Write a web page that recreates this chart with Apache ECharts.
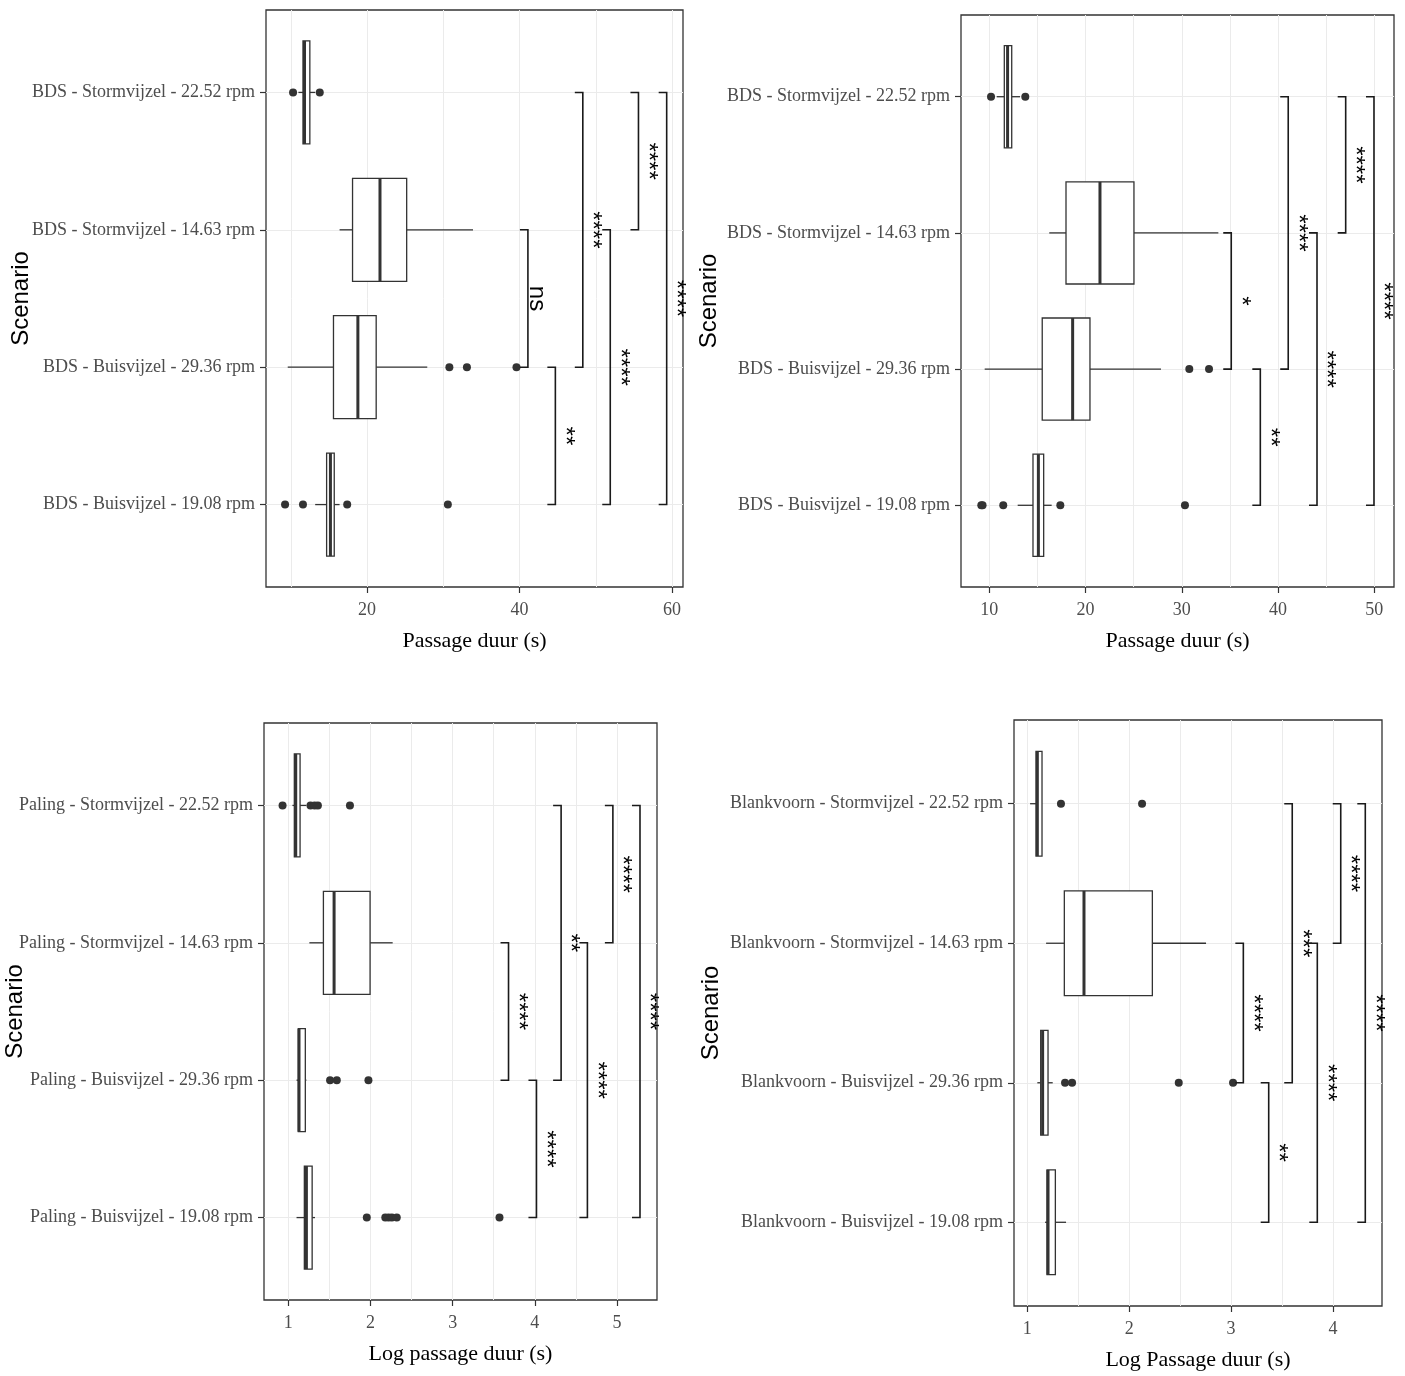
<!DOCTYPE html>
<html>
<head>
<meta charset="utf-8">
<script src="https://cdn.jsdelivr.net/npm/echarts@6/dist/echarts.min.js"></script>
<style>
html,body{margin:0;padding:0;background:#fff;}
#chart{width:1405px;height:1376px;}
</style>
</head>
<body>
<div id="chart"></div>
<script>
// ---------- DATA ----------
const catsBDS = ['BDS - Stormvijzel - 22.52 rpm','BDS - Stormvijzel - 14.63 rpm','BDS - Buisvijzel - 29.36 rpm','BDS - Buisvijzel - 19.08 rpm'];
const catsPaling = ['Paling - Stormvijzel - 22.52 rpm','Paling - Stormvijzel - 14.63 rpm','Paling - Buisvijzel - 29.36 rpm','Paling - Buisvijzel - 19.08 rpm'];
const catsBlank = ['Blankvoorn - Stormvijzel - 22.52 rpm','Blankvoorn - Stormvijzel - 14.63 rpm','Blankvoorn - Buisvijzel - 29.36 rpm','Blankvoorn - Buisvijzel - 19.08 rpm'];

// box stats per category: [lower whisker, Q1, median, Q3, upper whisker]
const boxes1 = [[11.0,11.6,11.8,12.5,13.2],[16.4,18.1,21.7,25.2,33.9],[9.6,15.6,18.8,21.2,27.9],[13.2,14.7,15.2,15.7,16.4]];
const outliers1 = [[10.3,13.8],[],[30.8,33.1,39.6],[9.25,11.6,17.4,30.6]];
const brackets1 = [[0,2,48.3],[0,1,55.6],[0,3,59.3],[1,2,41.1],[1,3,51.9],[2,3,44.7]];
const signif1 = ['****','****','****','ns','****','**'];
const xLimits1 = [6.75, 61.44];
const xTicks1 = [20,40,60];
const xGrid1 = [10,20,30,40,50,60];

const boxes2 = [[10.77,11.56,11.9,12.33,13.19],[16.23,17.97,21.5,25.03,33.8],[9.52,15.5,18.66,20.46,27.84],[12.95,14.54,15.1,15.65,16.48]];
const outliers2 = [[10.18,13.74],[],[30.78,32.83],[9.17,9.3,11.45,17.38,30.33]];
const brackets2 = [[0,2,41.06],[0,1,47.03],[0,3,49.97],[1,2,35.14],[1,3,44.05],[2,3,38.16]];
const signif2 = ['****','****','****','*','****','**'];
const xLimits2 = [7.06, 52.05];
const xTicks2 = [10,20,30,40,50];
const xGrid2 = [10,15,20,25,30,35,40,45,50];

const boxes3 = [[1.05,1.073,1.09,1.143,1.22],[1.256,1.427,1.557,1.995,2.27],[1.10,1.122,1.13,1.207,1.22],[1.10,1.195,1.22,1.29,1.325]];
const outliers3 = [[0.93,1.27,1.32,1.36,1.75],[],[1.508,1.59,1.975],[1.955,2.18,2.22,2.26,2.32,3.57]];
const brackets3 = [[1,2,3.68],[0,2,4.32],[1,3,4.64],[0,1,4.95],[0,3,5.28],[2,3,4.02]];
const signif3 = ['****','**','****','****','****','****'];
const xLimits3 = [0.704, 5.487];
const xTicks3 = [1,2,3,4,5];
const xGrid3 = [1,1.5,2,2.5,3,3.5,4,4.5,5];

const boxes4 = [[1.027,1.085,1.098,1.144,1.144],[1.184,1.363,1.556,2.227,2.754],[1.098,1.131,1.15,1.203,1.249],[1.174,1.193,1.203,1.275,1.38]];
const outliers4 = [[1.33,2.126],[],[1.37,1.439,2.486,3.019],[]];
const brackets4 = [[1,2,3.12],[0,2,3.60],[1,3,3.846],[0,1,4.076],[0,3,4.317],[2,3,3.369]];
const signif4 = ['****','***','****','****','****','**'];
const xLimits4 = [0.869, 4.481];
const xTicks4 = [1,2,3,4];
const xGrid4 = [1,1.5,2,2.5,3,3.5,4];

const xTitles = ['Passage duur (s)','Passage duur (s)','Log passage duur (s)','Log Passage duur (s)'];
const yTitle = 'Scenario';
const rowTicks = [0,1,2,3];

// ---------- LAYOUT / STYLE ----------
const gridsPx = [
  {left:266, top:10, width:417, height:577},
  {left:961, top:15, width:433, height:572},
  {left:264, top:723, width:393, height:577},
  {left:1014, top:720, width:368, height:586}
];
const yNameGaps = [233, 240, 237, 291];
const SERIF = '"Liberation Serif", "Times New Roman", serif';
const SANS = '"Liberation Sans", Arial, sans-serif';
const INK = '#333333';
const BOX_W = 0.75;

const panels = [
  {cats:catsBDS, boxes:boxes1, out:outliers1, br:brackets1, sig:signif1, lim:xLimits1, ticks:xTicks1, gl:xGrid1},
  {cats:catsBDS, boxes:boxes2, out:outliers2, br:brackets2, sig:signif2, lim:xLimits2, ticks:xTicks2, gl:xGrid2},
  {cats:catsPaling, boxes:boxes3, out:outliers3, br:brackets3, sig:signif3, lim:xLimits3, ticks:xTicks3, gl:xGrid3},
  {cats:catsBlank, boxes:boxes4, out:outliers4, br:brackets4, sig:signif4, lim:xLimits4, ticks:xTicks4, gl:xGrid4}
];

const grid = [], xAxis = [], yAxis = [], series = [];

panels.forEach((p, i) => {
  grid.push(Object.assign({show:true, borderColor:INK, borderWidth:1.3, backgroundColor:'#fff',
    containLabel:false, outerBoundsMode:'none'}, gridsPx[i]));
  // axis with labels and ticks
  xAxis.push({
    type:'value', gridIndex:i, min:p.lim[0], max:p.lim[1], position:'bottom',
    axisLine:{show:false, onZero:false},
    axisTick:{show:true, length:6, customValues:p.ticks, lineStyle:{color:INK, width:1.2}},
    axisLabel:{show:true, customValues:p.ticks, margin:14, color:'#4d4d4d', fontFamily:SERIF, fontSize:18},
    splitLine:{show:false},
    name:xTitles[i], nameLocation:'middle', nameGap:43, nameMoveOverlap:false,
    nameTextStyle:{fontFamily:SERIF, fontSize:22, color:'#000'}
  });
  // axis carrying the vertical grid lines
  xAxis.push({
    type:'value', gridIndex:i, min:p.lim[0], max:p.lim[1], position:'top',
    axisLine:{show:false, onZero:false},
    axisTick:{show:false, customValues:p.gl},
    axisLabel:{show:false},
    splitLine:{show:true, lineStyle:{color:'#ebebeb', width:1}}
  });
  yAxis.push({
    type:'value', gridIndex:i, min:-0.6, max:3.6, inverse:true, position:'left',
    axisLine:{show:false, onZero:false},
    axisTick:{show:true, length:6, customValues:rowTicks, lineStyle:{color:INK, width:1.2}},
    axisLabel:{show:true, customValues:rowTicks, margin:11, color:'#4d4d4d', fontFamily:SERIF, fontSize:18,
      formatter:(v) => p.cats[Math.round(v)] || ''},
    splitLine:{show:true, lineStyle:{color:'#ebebeb', width:1}},
    name:yTitle, nameLocation:'middle', nameGap:yNameGaps[i], nameRotate:90, nameMoveOverlap:false,
    nameTextStyle:{fontFamily:SANS, fontSize:24, color:'#000'}
  });

  // boxes
  series.push({
    type:'custom', xAxisIndex:2*i, yAxisIndex:i, z:3,
    data:p.boxes.map((b, r) => [r].concat(b)),
    encode:{x:[1,2,3,4,5], y:0},
    renderItem:(params, api) => {
      const r = api.value(0);
      const lo = api.coord([api.value(1), r]);
      const q1 = api.coord([api.value(2), r]);
      const md = api.coord([api.value(3), r]);
      const q3 = api.coord([api.value(4), r]);
      const hi = api.coord([api.value(5), r]);
      const h = api.size([0, BOX_W])[1];
      const y = q1[1];
      const ln = {stroke:INK, lineWidth:1.3};
      return {type:'group', children:[
        {type:'line', shape:{x1:lo[0], y1:y, x2:q1[0], y2:y}, style:ln},
        {type:'line', shape:{x1:q3[0], y1:y, x2:hi[0], y2:y}, style:ln},
        {type:'rect', shape:{x:q1[0], y:y-h/2, width:q3[0]-q1[0], height:h}, style:{fill:'#fff', stroke:INK, lineWidth:1.3}},
        {type:'line', shape:{x1:md[0], y1:y-h/2, x2:md[0], y2:y+h/2}, style:{stroke:INK, lineWidth:3}}
      ]};
    }
  });

  // outliers
  const pts = [];
  p.out.forEach((arr, r) => arr.forEach(v => pts.push([v, r])));
  series.push({
    type:'scatter', xAxisIndex:2*i, yAxisIndex:i, z:4,
    symbol:'circle', symbolSize:8,
    itemStyle:{color:INK, opacity:1},
    data:pts, silent:true
  });

  // significance brackets
  const sig = p.sig;
  series.push({
    type:'custom', xAxisIndex:2*i, yAxisIndex:i, z:5,
    data:p.br,
    encode:{x:2, y:[0,1]},
    renderItem:(params, api) => {
      const a = api.coord([api.value(2), api.value(0)]);
      const b = api.coord([api.value(2), api.value(1)]);
      const tip = 8;
      return {type:'group', children:[
        {type:'polyline', shape:{points:[[a[0]-tip, a[1]], [a[0], a[1]], [b[0], b[1]], [b[0]-tip, b[1]]]},
          style:{stroke:'#1a1a1a', lineWidth:1.6, fill:null}},
        {type:'text', x:a[0]+9, y:(a[1]+b[1])/2, rotation:-Math.PI/2,
          style:{text:sig[params.dataIndex], fontFamily:SANS, fontSize:24, fill:'#000',
            align:'center', verticalAlign:'middle'}}
      ]};
    }
  });
});

const chart = echarts.init(document.getElementById('chart'), null, {renderer:'canvas'});
chart.setOption({
  backgroundColor:'#fff',
  animation:false,
  grid, xAxis, yAxis, series
});
</script>
</body>
</html>
